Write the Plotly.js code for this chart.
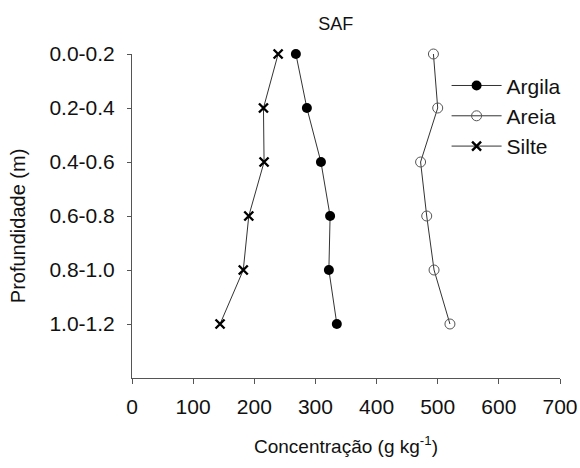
<!DOCTYPE html>
<html>
<head>
<meta charset="utf-8">
<script src="https://cdn.plot.ly/plotly-3.0.1.min.js"></script>
<style>html,body{margin:0;padding:0;background:#fff;}#chart{width:580px;height:468px;}</style>
</head>
<body>
<div id="chart"></div>
<script>
var depths = ["0.0-0.2", "0.2-0.4", "0.4-0.6", "0.6-0.8", "0.8-1.0", "1.0-1.2"];
var depthIndex = [0, 1, 2, 3, 4, 5];
var argila = [268, 286, 309, 324, 322, 335];
var areia = [493, 500, 472, 482, 494, 520];
var silte = [239, 215, 216, 191, 182, 144];

var lineStyle = {color: '#333', width: 1};
var traces = [
  {x: argila, y: depthIndex, name: 'Argila', mode: 'lines+markers', cliponaxis: false,
   line: lineStyle, marker: {symbol: 'circle', size: 10, color: '#000'}},
  {x: areia, y: depthIndex, name: 'Areia', mode: 'lines+markers', cliponaxis: false,
   line: lineStyle, marker: {symbol: 'circle-open', size: 10, color: '#555', line: {width: 1, color: '#555'}}},
  {x: silte, y: depthIndex, name: 'Silte', mode: 'lines+markers', cliponaxis: false,
   line: lineStyle, marker: {symbol: 'x-thin-open', size: 9, color: '#000', line: {width: 2.4, color: '#000'}}}
];

var font = {family: 'Liberation Sans, Arial, sans-serif', size: 21, color: '#111'};
var layout = {
  width: 580, height: 468,
  margin: {l: 132, r: 20, t: 54, b: 90},
  paper_bgcolor: '#fff', plot_bgcolor: '#fff',
  font: font,
  showlegend: true,
  title: {text: 'SAF', font: {family: font.family, size: 18, color: '#111'}, xref: 'container', x: 0.579, xanchor: 'center', yref: 'container', y: 0.949, yanchor: 'middle'},
  legend: {x: 0.735, y: 0.965, xanchor: 'left', yanchor: 'top', bgcolor: 'rgba(0,0,0,0)', font: {family: font.family, size: 21, color: '#111'}, itemwidth: 50, tracegroupgap: 0},
  xaxis: {
    range: [0, 700], tickvals: [0, 100, 200, 300, 400, 500, 600, 700],
    showline: true, linecolor: '#555', linewidth: 1, ticks: 'outside', ticklen: 5, tickcolor: '#555',
    showgrid: false, zeroline: false, ticklabelstandoff: 5,
    tickfont: {family: font.family, size: 21, color: '#111'},
    title: {text: 'Concentração (g kg<sup>-1</sup>)', font: {family: font.family, size: 19, color: '#111'}, standoff: 22}
  },
  yaxis: {
    range: [6, 0], autorange: false, tickvals: depthIndex, ticktext: depths,
    showline: true, linecolor: '#555', linewidth: 1, ticks: 'outside', ticklen: 4, tickcolor: '#555',
    showgrid: false, zeroline: false, ticklabelstandoff: 8,
    tickfont: {family: font.family, size: 21, color: '#111'}
  },
  annotations: [
    {text: 'Profundidade (m)', textangle: -90, xref: 'paper', yref: 'paper', x: -0.266, y: 0.469,
     xanchor: 'center', yanchor: 'middle', showarrow: false, font: {family: font.family, size: 20, color: '#111'}}
  ]
};

Plotly.newPlot('chart', traces, layout, {displayModeBar: false, staticPlot: true});
</script>
</body>
</html>
